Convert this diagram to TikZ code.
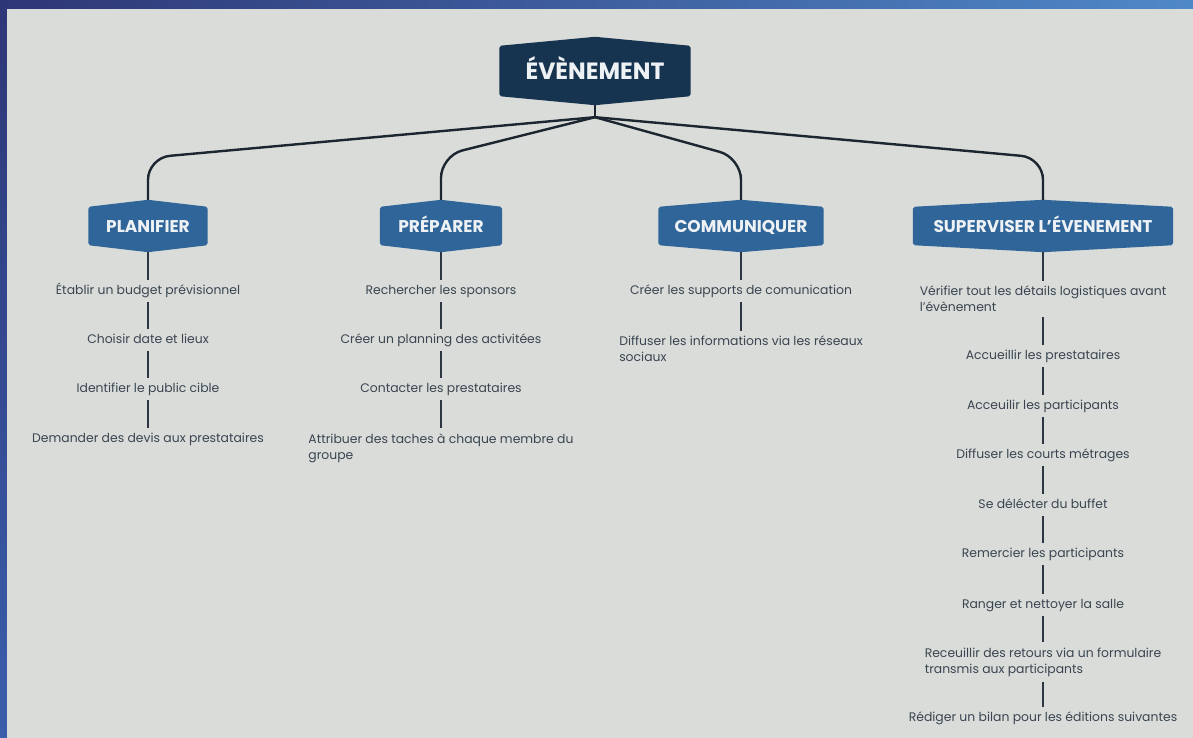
\documentclass[tikz,border=0pt]{standalone}
\usepackage{fontspec}
\setmainfont{Poppins}
\usetikzlibrary{backgrounds,calc,shadings}
\definecolor{frameTL}{HTML}{2E3676}
\definecolor{frameTR}{HTML}{4F88C8}
\definecolor{frameBL}{HTML}{3A5EAC}
\definecolor{frameBR}{HTML}{4F88C8}
\definecolor{panel}{HTML}{D9DCD9}
\definecolor{rootfill}{HTML}{163450}
\definecolor{childfill}{HTML}{2F6598}
\definecolor{headtext}{HTML}{EEF2F5}
\definecolor{bodytext}{HTML}{3A4550}
\definecolor{linkcol}{HTML}{1B2630}
\definecolor{stemcol}{HTML}{2B3640}

% fill a flat hexagon behind a named node
\newcommand\hexfill[3]{%
  \fill[#3, rounded corners=2pt]
    ($(#1.north west)+(0,#2)$) -- (#1.north) -- ($(#1.north east)+(0,#2)$) --
    ($(#1.south east)+(0,-#2)$) -- (#1.south) -- ($(#1.south west)+(0,-#2)$) -- cycle;}

\begin{document}
\begin{tikzpicture}[x=1pt,y=-1pt,
  rootbox/.style={inner sep=0pt, minimum width=191pt, minimum height=68pt,
    text height=16.5pt, text depth=0pt,
    font=\fontsize{23.5}{26}\selectfont\bfseries, text=headtext},
  childbox/.style={inner sep=0pt, minimum height=52pt,
    text height=12pt, text depth=0pt,
    font=\fontsize{17}{20}\selectfont\bfseries, text=headtext},
  itembase/.style={inner xsep=0pt, inner ysep=5pt, align=left, text=bodytext,
    font=\fontsize{12.4}{16}\selectfont},
  item/.style={itembase, text height=9.5pt, text depth=3pt},
  item2/.style={itembase},
  link/.style={draw=linkcol, line width=2.4pt, rounded corners=22pt},
  stem/.style={draw=stemcol, line width=2pt}]
\useasboundingbox (0,0) rectangle (1193,738);

% root and branches
\node[rootbox] (root) at (595,71) {ÉVÈNEMENT};
\node[childbox, minimum width=119pt] (plan) at (148,226) {PLANIFIER};
\node[childbox, minimum width=122pt] (prep) at (441,226) {PRÉPARER};
\node[childbox, minimum width=165pt] (comm) at (741,226) {COMMUNIQUER};
\node[childbox, minimum width=260pt] (sup) at (1043,226) {SUPERVISER L'ÉVENEMENT};

\begin{scope}[on background layer]
  % frame and panel
  \shade[upper left=frameTL, upper right=frameTR, lower left=frameBL, lower right=frameBR]
    (0,0) rectangle (1193,738);
  \fill[panel] (7,9) rectangle (1193,738);
  % box shapes
  \hexfill{root}{9}{rootfill}
  \hexfill{plan}{7}{childfill}
  \hexfill{prep}{7}{childfill}
  \hexfill{comm}{7}{childfill}
  \hexfill{sup}{7}{childfill}
\end{scope}

\coordinate (hub) at ($(root.south)+(0,12)$);
\draw[link, rounded corners=0pt] (root.south) -- (hub);
\draw[link] (hub) -- ($(plan.north)+(0,-42)$) -- (plan.north);
\draw[link] (hub) -- ($(prep.north)+(0,-44)$) -- (prep.north);
\draw[link] (hub) -- ($(comm.north)+(0,-42)$) -- (comm.north);
\draw[link] (hub) -- ($(sup.north)+(0,-42)$) -- (sup.north);

% PLANIFIER
\node[item] (p1) at (148,291) {Établir un budget prévisionnel};
\node[item] (p2) at (148,340) {Choisir date et lieux};
\node[item] (p3) at (148,389) {Identifier le public cible};
\node[item] (p4) at (148,439) {Demander des devis aux prestataires};
\draw[stem] (plan.south) -- (p1.north);
\draw[stem] (p1) -- (p2) (p2) -- (p3) (p3) -- (p4);

% PRÉPARER
\node[item] (r1) at (441,291) {Rechercher les sponsors};
\node[item] (r2) at (441,340) {Créer un planning des activitées};
\node[item] (r3) at (441,389) {Contacter les prestataires};
\node[item2] (r4) at (441,448) {Attribuer des taches à chaque membre du\\groupe};
\draw[stem] (prep.south) -- (r1.north);
\draw[stem] (r1) -- (r2) (r2) -- (r3) (r3) -- (r4);

% COMMUNIQUER
\node[item] (c1) at (741,291) {Créer les supports de comunication};
\node[item2] (c2) at (741,349) {Diffuser les informations via les réseaux\\sociaux};
\draw[stem] (comm.south) -- (c1.north);
\draw[stem] (c1) -- (c2);

% SUPERVISER
\node[item2] (s1) at (1043,299) {Vérifier tout les détails logistiques avant\\l'évènement};
\node[item] (s2) at (1043,356) {Accueillir les prestataires};
\node[item] (s3) at (1043,406) {Acceuilir les participants};
\node[item] (s4) at (1043,455) {Diffuser les courts métrages};
\node[item] (s5) at (1043,505) {Se délécter du buffet};
\node[item] (s6) at (1043,554) {Remercier les participants};
\node[item] (s7) at (1043,605) {Ranger et nettoyer la salle};
\node[item2] (s8) at (1043,662) {Receuillir des retours via un formulaire\\transmis aux participants};
\node[item] (s9) at (1043,718) {Rédiger un bilan pour les éditions suivantes};
\draw[stem] (sup.south) -- (s1.north);
\draw[stem] (s1) -- (s2) (s2) -- (s3) (s3) -- (s4) (s4) -- (s5)
  (s5) -- (s6) (s6) -- (s7) (s7) -- (s8) (s8) -- (s9);
\end{tikzpicture}
\end{document}
